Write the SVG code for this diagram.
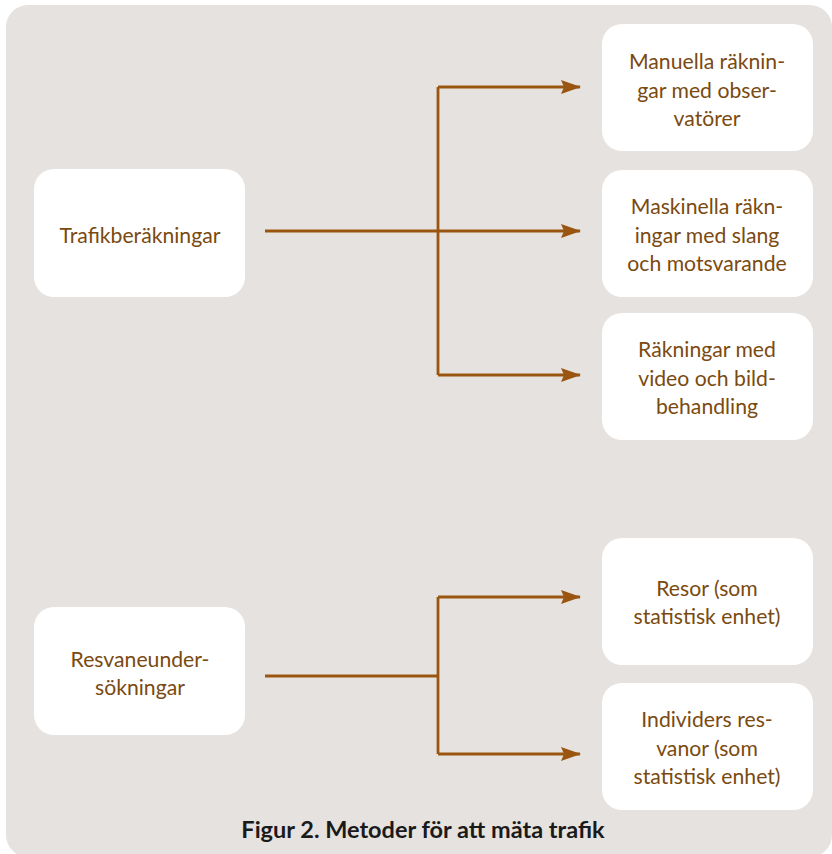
<svg xmlns="http://www.w3.org/2000/svg" width="832" height="854" viewBox="0 0 832 854">
<defs>
<style>
.box{fill:#ffffff}
.t{font-family:Lato,"Open Sans","Liberation Sans",sans-serif;font-size:21.2px;fill:#7a4a10;text-anchor:middle}
.cap{font-family:Lato,"Open Sans","Liberation Sans",sans-serif;font-size:23.5px;font-weight:bold;fill:#1a1a1a;text-anchor:middle}
.ln{fill:none;stroke:#9a5610;stroke-width:2.8}
</style>
<marker id="ah" markerWidth="20" markerHeight="14" refX="19" refY="7" orient="auto" markerUnits="userSpaceOnUse">
<path d="M0,0 L20,7 L0,14 L3,7 Z" fill="#9a5610"/>
</marker>
</defs>
<rect x="6" y="5" width="826" height="852" rx="22" fill="#e6e2df"/>
<g id="connectors">
<path class="ln" d="M265,231 H438"/>
<path class="ln" d="M438,87 V375"/>
<path class="ln" d="M438,87 H580" marker-end="url(#ah)"/>
<path class="ln" d="M438,231 H580" marker-end="url(#ah)"/>
<path class="ln" d="M438,375 H580" marker-end="url(#ah)"/>
<path class="ln" d="M265,676 H438"/>
<path class="ln" d="M438,597 V754"/>
<path class="ln" d="M438,597 H580" marker-end="url(#ah)"/>
<path class="ln" d="M438,754 H580" marker-end="url(#ah)"/>
</g>
<g id="n-trafik">
<rect class="box" x="34" y="169" width="211" height="128" rx="20"/>
<text class="t" x="140" y="243">Trafikberäkningar</text>
</g>
<g id="n-resvane">
<rect class="box" x="34" y="607" width="211" height="128" rx="20"/>
<text class="t" x="140" y="667">Resvaneunder-</text>
<text class="t" x="140" y="695">sökningar</text>
</g>
<g id="n-manuella">
<rect class="box" x="602" y="24" width="211" height="127" rx="20"/>
<text class="t" x="707" y="69">Manuella räknin-</text>
<text class="t" x="707" y="98">gar med obser-</text>
<text class="t" x="707" y="126">vatörer</text>
</g>
<g id="n-maskinella">
<rect class="box" x="602" y="170" width="211" height="127" rx="20"/>
<text class="t" x="707" y="214">Maskinella räkn-</text>
<text class="t" x="707" y="243">ingar med slang</text>
<text class="t" x="707" y="271">och motsvarande</text>
</g>
<g id="n-video">
<rect class="box" x="602" y="313" width="211" height="127" rx="20"/>
<text class="t" x="707" y="357">Räkningar med</text>
<text class="t" x="707" y="386">video och bild-</text>
<text class="t" x="707" y="414">behandling</text>
</g>
<g id="n-resor">
<rect class="box" x="602" y="538" width="211" height="127" rx="20"/>
<text class="t" x="707" y="596">Resor (som</text>
<text class="t" x="707" y="624">statistisk enhet)</text>
</g>
<g id="n-individers">
<rect class="box" x="602" y="683" width="211" height="127" rx="20"/>
<text class="t" x="707" y="727">Individers res-</text>
<text class="t" x="707" y="756">vanor (som</text>
<text class="t" x="707" y="784">statistisk enhet)</text>
</g>
<text class="cap" x="423" y="838">Figur 2. Metoder för att mäta trafik</text>
</svg>
